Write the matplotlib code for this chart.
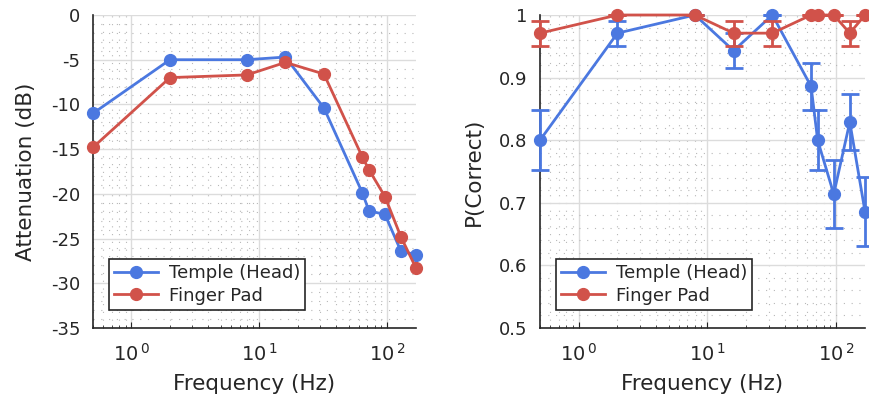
import matplotlib
matplotlib.use("Agg")
import matplotlib.pyplot as plt
from matplotlib.ticker import LogLocator, MultipleLocator, NullFormatter, FixedLocator

plt.rcParams['font.family'] = ['DejaVu Sans']
plt.rcParams['mathtext.fontset'] = 'dejavusans'

# ---- data ----
freqs = [0.5, 2, 8, 16, 32, 64, 72, 96, 128, 168]
atten_temple = [-11.0, -5.0, -5.0, -4.7, -10.4, -19.9, -21.9, -22.3, -26.4, -26.8]
atten_finger = [-14.8, -7.0, -6.7, -5.3, -6.6, -15.9, -17.3, -20.3, -24.8, -28.3]
pc_temple = [0.800, 0.971, 1.000, 0.943, 1.000, 0.886, 0.800, 0.714, 0.829, 0.686]
err_temple = [0.048, 0.020, 0.000, 0.028, 0.000, 0.038, 0.048, 0.054, 0.045, 0.055]
pc_finger = [0.971, 1.000, 1.000, 0.971, 0.971, 1.000, 1.000, 1.000, 0.971, 1.000]
err_finger = [0.020, 0.000, 0.000, 0.020, 0.020, 0.000, 0.000, 0.000, 0.020, 0.000]
labels = ['Temple (Head)', 'Finger Pad']
xtick_vals = [1, 10, 100]
xtick_labels = [r'$10^{\,0}$', r'$10^{\,1}$', r'$10^{\,2}$']

blue = '#4B78E0'
red = '#D1524A'
txt = '#262626'

W, H = 870, 403
fig = plt.figure(figsize=(W / 100, H / 100), dpi=100)

def px_axes(x0, y0, x1, y1):
    return fig.add_axes([x0 / W, 1 - y1 / H, (x1 - x0) / W, (y1 - y0) / H])

ax1 = px_axes(93, 15, 416, 328)
ax2 = px_axes(540, 15, 865, 328)

def style(ax, ymin, ymax, ystep, yminor):
    ax.set_xscale('log')
    ax.set_xlim(0.5, 168)
    ax.set_ylim(ymin, ymax)
    ax.xaxis.set_major_locator(FixedLocator(xtick_vals))
    ax.set_xticklabels(xtick_labels)
    ax.xaxis.set_minor_locator(LogLocator(base=10, subs=range(2, 10), numticks=20))
    ax.xaxis.set_minor_formatter(NullFormatter())
    ax.yaxis.set_major_locator(MultipleLocator(ystep))
    ax.yaxis.set_minor_locator(MultipleLocator(yminor))
    for s in ['top', 'right']:
        ax.spines[s].set_visible(False)
    for s in ['left', 'bottom']:
        ax.spines[s].set_color(txt)
        ax.spines[s].set_linewidth(1.2)
    ax.tick_params(which='both', direction='in', labelsize=13, colors=txt,
                   top=False, right=False)
    ax.tick_params(axis='x', which='major', length=4, pad=11, labelsize=14)
    ax.tick_params(axis='x', which='minor', length=2.5)
    ax.tick_params(axis='y', which='both', length=0, pad=9)
    ax.grid(which='major', color='#dcdcdc', linestyle='-', linewidth=1.0)
    ax.grid(which='minor', color='#b8b8b8', linestyle=(0, (1, 6)), linewidth=0.8)
    ax.set_axisbelow(True)
    ax.set_xlabel('Frequency (Hz)', fontsize=15.5, color=txt, labelpad=6)

# ---- left: attenuation ----
style(ax1, -35, 0, 5, 1)
ax1.plot(freqs, atten_temple, '-o', color=blue, lw=2.0, ms=8.5, label=labels[0], clip_on=False, zorder=3)
ax1.plot(freqs, atten_finger, '-o', color=red, lw=2.0, ms=8.5, label=labels[1], clip_on=False, zorder=4)
ax1.set_yticks(range(-35, 1, 5))
ax1.set_yticklabels([str(v) for v in range(-35, 1, 5)])
ax1.set_ylabel('Attenuation (dB)', fontsize=15.5, color=txt, labelpad=11)
leg_kw = dict(loc='lower left', borderaxespad=0, fontsize=13, frameon=True, fancybox=False,
              edgecolor=txt, handlelength=2.4, borderpad=0.3, labelspacing=0.25,
              handletextpad=0.6, framealpha=1)
leg1 = ax1.legend(bbox_to_anchor=(16 / 323, 18 / 313), **leg_kw)
leg1.get_frame().set_linewidth(1.2)
for t in leg1.get_texts():
    t.set_color(txt)

# ---- right: P(correct) ----
style(ax2, 0.5, 1.0, 0.1, 0.02)
handles = []
for y, e, c, lab, z in [(pc_temple, err_temple, blue, labels[0], 3),
                        (pc_finger, err_finger, red, labels[1], 4)]:
    cont = ax2.errorbar(freqs, y, yerr=e, fmt='-o', color=c, lw=2.0, ms=8.5, elinewidth=2.0,
                        capsize=6.5, capthick=2.0, label=lab, clip_on=False, zorder=z)
    for art in cont.lines[1] + cont.lines[2]:
        art.set_clip_on(False)
    handles.append(cont.lines[0])
ax2.set_yticks([0.5, 0.6, 0.7, 0.8, 0.9, 1.0])
ax2.set_yticklabels(['0.5', '0.6', '0.7', '0.8', '0.9', '1'])
ax2.set_ylabel('P(Correct)', fontsize=15.5, color=txt, labelpad=11)
leg2 = ax2.legend(handles, labels, bbox_to_anchor=(16 / 325, 18 / 313), **leg_kw)
leg2.get_frame().set_linewidth(1.2)
for t in leg2.get_texts():
    t.set_color(txt)

fig.savefig('out.png', dpi=100)
